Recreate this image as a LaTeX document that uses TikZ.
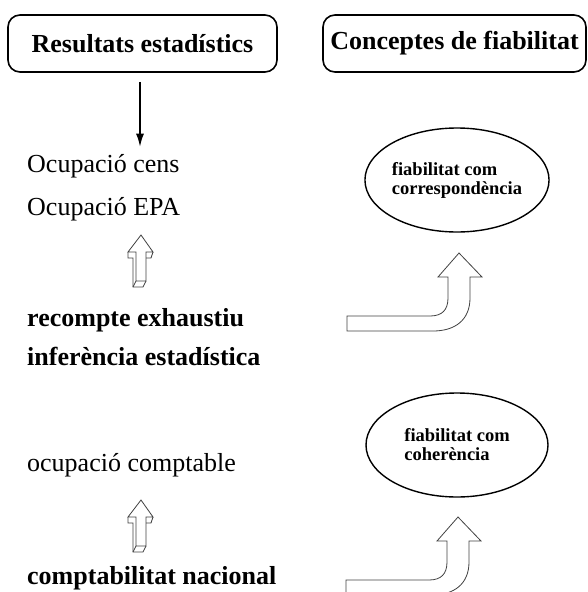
\documentclass[tikz,border=0pt]{standalone}
\usepackage{fontspec}
\setmainfont{Liberation Serif}
\usetikzlibrary{shapes.geometric,arrows.meta}
\tikzset{
  titlebox/.style={draw, line width=1.6pt, rounded corners=12pt, minimum height=57pt,
    inner sep=0pt, font=\fontsize{26}{30}\selectfont\bfseries},
  concept/.style={draw, ellipse, line width=1.4pt, minimum width=182pt, minimum height=104pt,
    inner sep=0pt, align=left, font=\fontsize{18.5}{19}\selectfont\bfseries},
  datatext/.style={anchor=base west, inner sep=0pt, font=\fontsize{26}{30}\selectfont},
  datatextbf/.style={datatext, font=\fontsize{26}{30}\selectfont\bfseries},
  hollow/.style={draw=black!75, line width=0.8pt, line join=miter},
}
\begin{document}
\begin{tikzpicture}[x=1pt,y=-1pt]
  \useasboundingbox (0,0) rectangle (587,592);
  \clip (0,0) rectangle (587,592);
  % headings
  \node[titlebox, minimum width=269pt] (res) at (142.5,43.5) {Resultats estadístics};
  \node[titlebox, minimum width=263pt] (conc) at (454.5,43.5) {Conceptes de fiabilitat};
  % left column
  \node[datatext] (cens) at (27,172) {Ocupació cens};
  \node[datatext] (epa) at (27,215) {Ocupació EPA};
  \node[datatextbf] (recompte) at (27,326) {recompte exhaustiu};
  \node[datatextbf] (inferencia) at (27,365) {inferència estadística};
  \node[datatext] (comptable) at (27,471) {ocupació comptable};
  \node[datatextbf] (nacional) at (27,584) {comptabilitat nacional};
  % right column
  \node[concept] (corresp) at (457,180) {fiabilitat com\\correspondència};
  \node[concept] (coher) at (457,445) {fiabilitat com\\coherència};
  \path (res.south |- cens.north) coordinate (censtop);
  \draw[line width=1.6pt, -{Latex[length=13pt,width=8pt]}]
      ([xshift=-2.5pt,yshift=-9pt]res.south) -- ([xshift=-2.5pt,yshift=7pt]censtop);
  \foreach \dy in {0,265}{% small hollow arrows
    \begin{scope}[shift={(0,\dy)}]
      \draw[hollow] (141,235) -- (153,252) -- (146,252) -- (146,281)
          -- (136,281) -- (136,252) -- (128,252) -- cycle;
      \draw[hollow] (128,252) -- (128,258) -- (133,258) -- (133,287)
          -- (143,287) -- (146,281);
      \draw[hollow] (136,281) -- (133,287);
      \draw[hollow] (153,252) -- (151,258) -- (146,258);
    \end{scope}}
  \foreach \dx/\dy in {0/0,-1/264}{% bent hollow arrows
    \draw[hollow, shift={(\dx,\dy)}] (347,316) -- (430,316)
        .. controls (442,316) and (448,310) .. (448,298) -- (448,277)
        -- (438,277) -- (459,253) -- (482,277) -- (470,277) -- (470,298)
        .. controls (470,320) and (455,331) .. (433,331) -- (347,331) -- cycle;}
\end{tikzpicture}
\end{document}
